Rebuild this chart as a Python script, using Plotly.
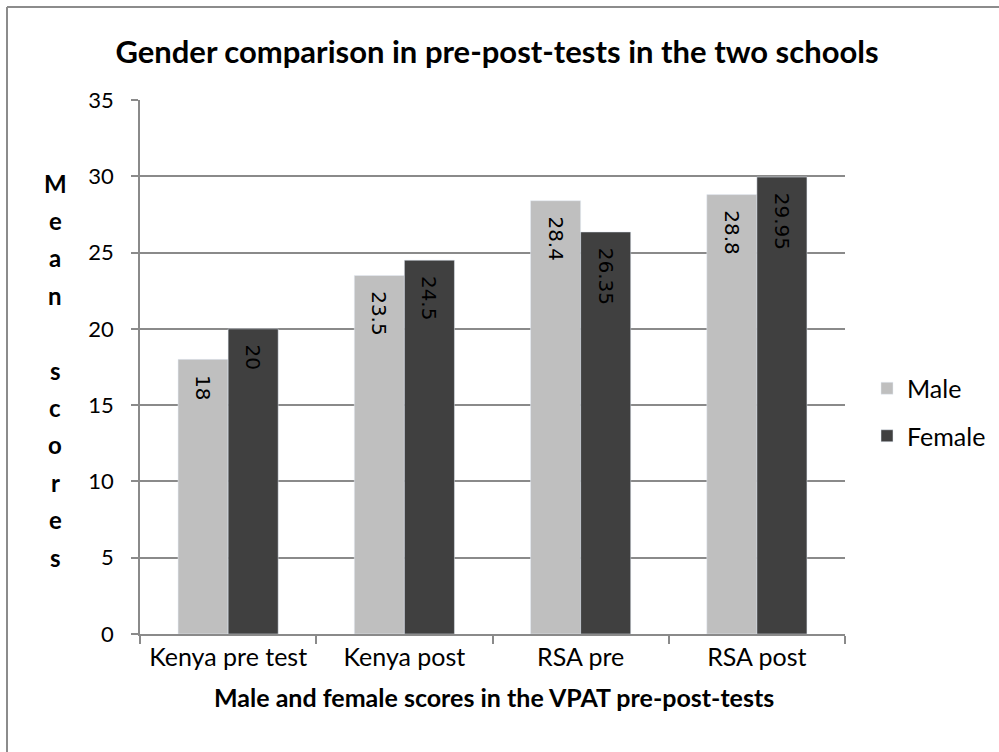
import plotly.graph_objects as go

categories = ["Kenya pre test", "Kenya post", "RSA pre", "RSA post"]
male = [18, 23.5, 28.4, 28.8]
female = [20, 24.5, 26.35, 29.95]
y_ticks = [0, 5, 10, 15, 20, 25, 30, 35]
y_title = "Mean scores"

FONT = "Lato"
GRID = "#8a8a8a"
PAD = "\u00a0\u00a0"

fig = go.Figure()
fig.add_trace(go.Bar(
    name="Male", x=categories, y=male, marker_color="#bfbfbf",
    texttemplate=PAD + "%{y}", textposition="inside", insidetextanchor="end",
    textangle=90, textfont=dict(family="DejaVu Sans", size=20, color="black"),
    legendgroup="m",
))
fig.add_trace(go.Bar(
    name="Female", x=categories, y=female, marker_color="#404040",
    texttemplate=PAD + "%{y}", textposition="inside", insidetextanchor="end",
    textangle=90, textfont=dict(family="DejaVu Sans", size=20, color="black"),
    legendgroup="f",
))

W, H = 999, 752
L, R, T, B = 140, 845, 100, 634
pw, ph = R - L, B - T

fig.update_layout(
    width=W, height=H,
    margin=dict(l=L, r=W - R, t=T, b=H - B, autoexpand=False),
    paper_bgcolor="white", plot_bgcolor="white",
    barmode="group", bargap=76 / 176, bargroupgap=0,
    font=dict(family=FONT, size=24, color="#000000"),
    title=dict(text="<b>Gender comparison in pre-post-tests in the two schools</b>",
               x=497 / W, xanchor="center", y=1 - 52 / H, yanchor="middle",
               font=dict(family=FONT, size=31, color="black")),
    showlegend=True,
    legend=dict(x=(867 - L) / pw, xanchor="left", y=(634 - 412) / ph, yanchor="middle",
                traceorder="grouped", tracegroupgap=12,
                font=dict(family=FONT, size=25, color="black"),
                bgcolor="rgba(0,0,0,0)"),
)
fig.update_xaxes(
    showgrid=False, showline=True, linecolor=GRID, linewidth=1.5,
    ticks="outside", tickson="boundaries", ticklen=8, tickcolor=GRID, tickwidth=1.5,
    tickfont=dict(family=FONT, size=25, color="black"),
)
fig.update_yaxes(
    range=[0, 35], tickvals=y_ticks, showgrid=True, gridcolor=GRID, gridwidth=1.5,
    showline=True, linecolor=GRID, linewidth=1.5, zeroline=False,
    ticks="outside", ticklen=7, tickcolor=GRID, tickwidth=1.5,
    ticklabelstandoff=13,
    tickfont=dict(family=FONT, size=22, color="black"),
)

# x-axis title
fig.add_annotation(text="<b>Male and female scores in the VPAT pre-post-tests</b>",
                   xref="paper", yref="paper", x=(494 - L) / pw, y=(B - 697) / ph,
                   xanchor="center", yanchor="middle", showarrow=False,
                   font=dict(family=FONT, size=25, color="black"))

# y-axis title, one letter per line
step = 37.4
for i, ch in enumerate(y_title):
    if ch == " ":
        continue
    fig.add_annotation(text=f"<b>{ch}</b>", xref="paper", yref="paper",
                       x=(55 - L) / pw, y=(B - (183 + i * step)) / ph,
                       xanchor="center", yanchor="middle", showarrow=False,
                       font=dict(family=FONT, size=24, color="black"))

# outer chart border (top and left visible)
fig.add_shape(type="line", xref="paper", yref="paper",
              x0=(7 - L) / pw, x1=(W + 5 - L) / pw, y0=(B - 7) / ph, y1=(B - 7) / ph,
              line=dict(color="#8c8c8c", width=2))
fig.add_shape(type="line", xref="paper", yref="paper",
              x0=(7 - L) / pw, x1=(7 - L) / pw, y0=(B - 7) / ph, y1=(B - H - 5) / ph,
              line=dict(color="#8c8c8c", width=2))

fig.write_html("out.html")
